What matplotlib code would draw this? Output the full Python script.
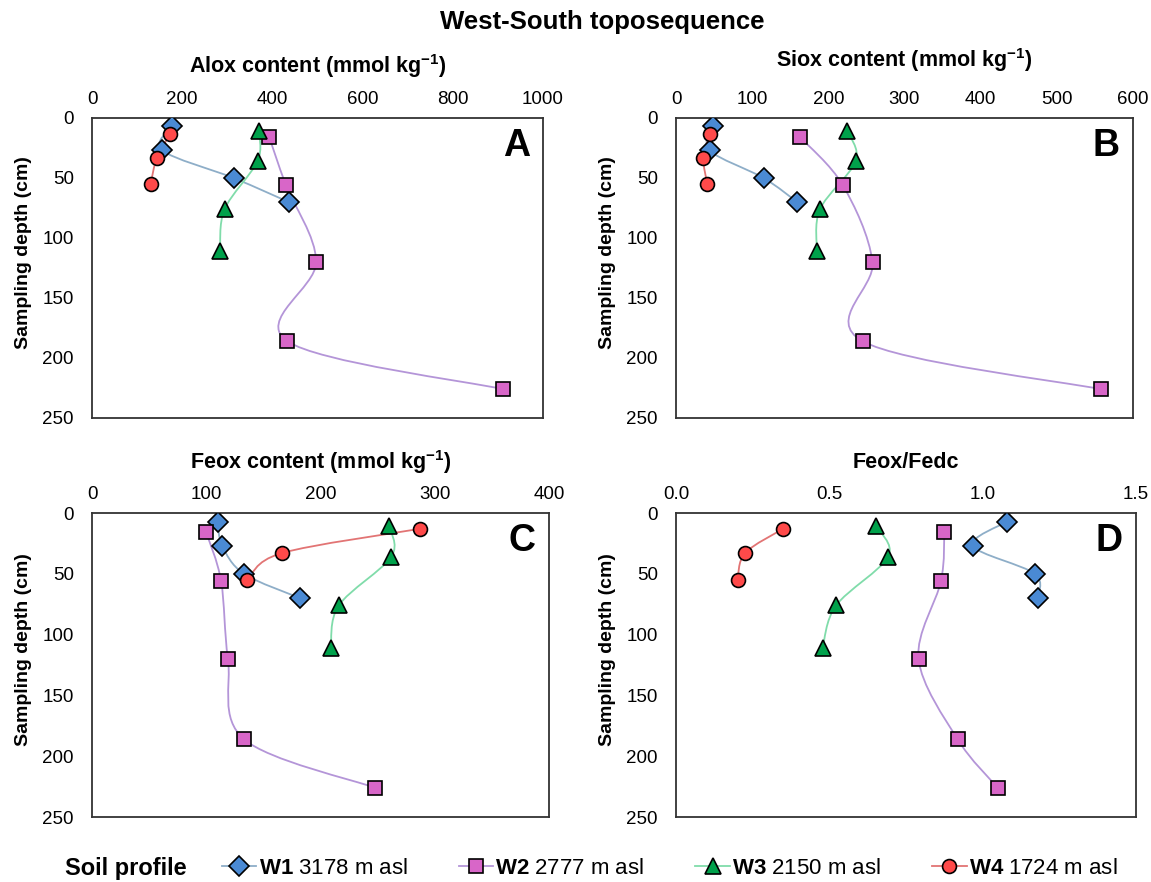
import numpy as np
import matplotlib
matplotlib.use("Agg")
import matplotlib.pyplot as plt
from matplotlib.path import Path
from matplotlib.patches import PathPatch
from matplotlib.lines import Line2D

plt.rcParams['font.family'] = ['Liberation Sans', 'DejaVu Sans']
plt.rcParams['mathtext.fontset'] = 'custom'
plt.rcParams['mathtext.rm'] = 'Liberation Sans'
plt.rcParams['mathtext.bf'] = 'Liberation Sans:bold'

# ---- data ----
depth_w1 = [7, 27, 50, 70]
depth_w2 = [16, 56, 120, 186, 226]
depth_w3 = [11, 36, 76, 111]
depth_w4 = [13, 33, 55]

alox_w1 = [177, 156, 314, 436]
alox_w2 = [393, 430, 497, 433, 912]
alox_w3 = [370, 367, 294, 284]
alox_w4 = [174, 144, 130]

siox_w1 = [49, 44, 115, 159]
siox_w2 = [163, 219, 258, 245, 558]
siox_w3 = [225, 236, 189, 185]
siox_w4 = [45, 36, 41]

feox_w1 = [110, 114, 133, 182]
feox_w2 = [100, 113, 119, 133, 248]
feox_w3 = [260, 262, 216, 209]
feox_w4 = [287, 166, 136]

ratio_w1 = [1.080, 0.968, 1.170, 1.179]
ratio_w2 = [0.875, 0.864, 0.791, 0.918, 1.049]
ratio_w3 = [0.653, 0.692, 0.522, 0.478]
ratio_w4 = [0.349, 0.225, 0.201]

profiles = ["W1", "W2", "W3", "W4"]
elevations = ["3178 m asl", "2777 m asl", "2150 m asl", "1724 m asl"]
depths = [depth_w1, depth_w2, depth_w3, depth_w4]

panels = [
    ("A", "Alox content (mmol kg$^{\\mathbf{-1}}$)", [alox_w1, alox_w2, alox_w3, alox_w4], (0, 1000), [0, 200, 400, 600, 800, 1000], "{:.0f}"),
    ("B", "Siox content (mmol kg$^{\\mathbf{-1}}$)", [siox_w1, siox_w2, siox_w3, siox_w4], (0, 600), [0, 100, 200, 300, 400, 500, 600], "{:.0f}"),
    ("C", "Feox content (mmol kg$^{\\mathbf{-1}}$)", [feox_w1, feox_w2, feox_w3, feox_w4], (0, 400), [0, 100, 200, 300, 400], "{:.0f}"),
    ("D", "Feox/Fedc", [ratio_w1, ratio_w2, ratio_w3, ratio_w4], (0, 1.5), [0.0, 0.5, 1.0, 1.5], "{:.1f}"),
]

marker_face = ["#4a8ad4", "#d866c8", "#00a14b", "#ff4a4a"]
line_col = ["#8eaec8", "#b495d8", "#80dcaa", "#e27474"]
markers = ["D", "s", "^", "o"]
msizes = [10, 10, 11, 10]

W, H = 1151, 882
fig = plt.figure(figsize=(W / 100, H / 100), dpi=100)

# axes rectangles in pixels: left, top, right, bottom
boxes = [(92, 118, 543, 418), (676, 118, 1133, 418),
         (92, 513, 549, 817), (676, 513, 1136, 817)]
title_offset = [52, 58, 51, 51]


def smooth_path(x, y):
    # Excel-style smoothed line: Catmull-Rom converted to cubic Bezier segments
    pts = np.column_stack([x, y]).astype(float)
    verts = [pts[0]]
    codes = [Path.MOVETO]
    n = len(pts)
    for i in range(n - 1):
        p0 = pts[i - 1] if i > 0 else pts[i]
        p1, p2 = pts[i], pts[i + 1]
        p3 = pts[i + 2] if i + 2 < n else pts[i + 1]
        verts += [p1 + (p2 - p0) / 6, p2 - (p3 - p1) / 6, p2]
        codes += [Path.CURVE4] * 3
    return Path(verts, codes)


for (letter, title, series, xlim, xticks, fmt), (l, t, r, b), toff in zip(panels, boxes, title_offset):
    ax = fig.add_axes([l / W, 1 - b / H, (r - l) / W, (b - t) / H])
    for k in range(4):
        ax.add_patch(PathPatch(smooth_path(series[k], depths[k]), fill=False,
                               edgecolor=line_col[k], lw=1.3, zorder=2))
        ax.plot(series[k], depths[k], linestyle="none", marker=markers[k],
                markersize=msizes[k], markerfacecolor=marker_face[k],
                markeredgecolor="black", markeredgewidth=1.2, zorder=3)
    ax.set_xlim(*xlim)
    ax.set_ylim(250, 0)
    ax.set_xticks(xticks)
    ax.set_xticklabels([fmt.format(v) for v in xticks])
    ax.set_yticks([0, 50, 100, 150, 200, 250])
    ax.xaxis.tick_top()
    ax.tick_params(axis="x", length=0, labelsize=13.5, pad=7)
    ax.tick_params(axis="y", length=0, labelsize=13.5, pad=13)
    for s in ax.spines.values():
        s.set_color("#333333")
        s.set_linewidth(1.3)
    ax.set_ylabel("Sampling depth (cm)", fontsize=14, fontweight="bold", va="center")
    ax.yaxis.set_label_coords(-68 / (r - l), 0.55)
    ax.text(0.5, 1 + toff / (b - t), title, transform=ax.transAxes, ha="center",
            va="center", fontsize=15.5, fontweight="bold")
    ax.text(1 - 13 / (r - l), 1 - 28 / (b - t), letter, transform=ax.transAxes,
            ha="right", va="center", fontsize=27, fontweight="bold")

fig.text(602 / W, 1 - 22 / H, "West-South toposequence", ha="center", va="center",
         fontsize=18.5, fontweight="bold")

# legend
fig.text(65 / W, 14 / H, "Soil profile", ha="left", va="center",
         fontsize=17, fontweight="bold")
handles = [Line2D([], [], color=line_col[k], lw=1.3, marker=markers[k],
                  markersize=msizes[k], markerfacecolor=marker_face[k],
                  markeredgecolor="black", markeredgewidth=1.2) for k in range(4)]
labels = ["$\\mathbf{%s}$ %s" % (p, e) for p, e in zip(profiles, elevations)]
fig.legend(handles, labels, loc="center left", bbox_to_anchor=(222 / W, 14 / H),
           ncol=4, frameon=False, fontsize=16, handlelength=1.55,
           handletextpad=0.1, columnspacing=2.3, borderpad=0, borderaxespad=0)

fig.savefig("out.png", dpi=100)
